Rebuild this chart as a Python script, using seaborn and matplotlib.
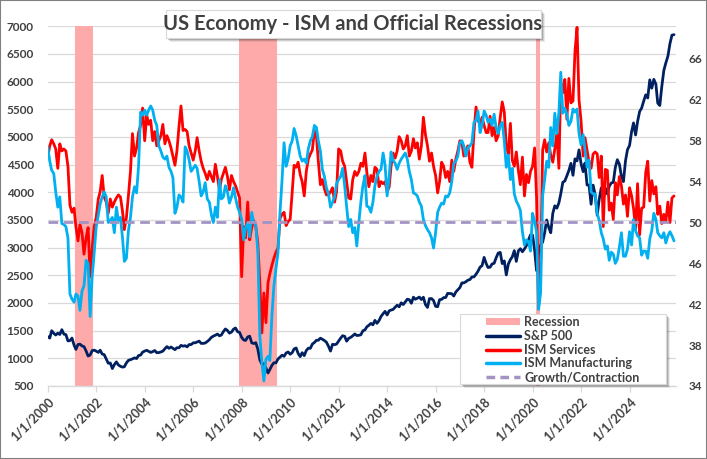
import matplotlib
matplotlib.use("Agg")
import matplotlib.pyplot as plt
import matplotlib.dates as mdates
import matplotlib.ticker as ticker
from matplotlib.patches import Rectangle, Patch
from matplotlib.lines import Line2D
import pandas as pd
import seaborn as sns

# ─── data (monthly, Jan 2000 .. Nov 2025) ─────────────────────────────────────
START_MONTH = "2000-01-01"

sp500 = [
    1394, 1366, 1499, 1452, 1421, 1455, 1431, 1518, 1437, 1429, 1315, 1320,  # 2000
    1366, 1240, 1160, 1249, 1256, 1224, 1211, 1134, 1041, 1060, 1139, 1148,  # 2001
    1130, 1107, 1147, 1077, 1067, 990, 912, 916, 815, 886, 936, 880,         # 2002
    856, 841, 848, 917, 964, 975, 990, 1008, 996, 1051, 1058, 1112,          # 2003
    1131, 1145, 1126, 1107, 1121, 1141, 1102, 1104, 1115, 1130, 1174, 1212,  # 2004
    1181, 1204, 1181, 1157, 1192, 1191, 1234, 1220, 1229, 1207, 1249, 1248,  # 2005
    1280, 1281, 1295, 1311, 1270, 1270, 1277, 1304, 1336, 1378, 1401, 1418,  # 2006
    1438, 1407, 1421, 1482, 1531, 1503, 1455, 1474, 1527, 1549, 1481, 1468,  # 2007
    1379, 1331, 1323, 1386, 1400, 1280, 1267, 1283, 1165, 969, 896, 903,     # 2008
    826, 735, 798, 873, 919, 919, 987, 1021, 1057, 1036, 1096, 1115,         # 2009
    1074, 1104, 1169, 1187, 1089, 1031, 1102, 1049, 1141, 1183, 1181, 1258,  # 2010
    1286, 1327, 1326, 1364, 1345, 1321, 1292, 1219, 1131, 1253, 1247, 1258,  # 2011
    1312, 1366, 1408, 1398, 1310, 1362, 1379, 1407, 1441, 1412, 1416, 1426,  # 2012
    1498, 1515, 1569, 1598, 1631, 1606, 1686, 1633, 1682, 1757, 1806, 1848,  # 2013
    1783, 1859, 1872, 1884, 1924, 1960, 1931, 2003, 1972, 2018, 2068, 2059,  # 2014
    1995, 2105, 2068, 2086, 2107, 2063, 2104, 1972, 1920, 2079, 2080, 2044,  # 2015
    1940, 1932, 2060, 2065, 2097, 2099, 2174, 2171, 2168, 2126, 2199, 2239,  # 2016
    2279, 2364, 2363, 2384, 2412, 2423, 2470, 2472, 2519, 2575, 2648, 2674,  # 2017
    2824, 2714, 2641, 2648, 2705, 2718, 2816, 2902, 2914, 2712, 2760, 2507,  # 2018
    2704, 2784, 2834, 2946, 2752, 2942, 2980, 2926, 2977, 3038, 3141, 3231,  # 2019
    3226, 2954, 2585, 2912, 3044, 3100, 3271, 3500, 3363, 3270, 3622, 3756,  # 2020
    3714, 3811, 3973, 4181, 4204, 4298, 4395, 4523, 4308, 4605, 4567, 4766,  # 2021
    4516, 4374, 4530, 4132, 4132, 3785, 4130, 3955, 3586, 3872, 4080, 3840,  # 2022
    4077, 3970, 4109, 4169, 4180, 4450, 4589, 4508, 4288, 4194, 4568, 4770,  # 2023
    4846, 5096, 5254, 5036, 5278, 5460, 5522, 5648, 5762, 5705, 6032, 5882,  # 2024
    6041, 5955, 5612, 5569, 5912, 6205, 6339, 6460, 6688, 6840, 6849,        # 2025
]

ism_services = [
    56.4, 57.5, 58.1, 57.7, 57.2, 55.3, 57.7, 57.0, 57.2, 57.0, 55.5, 51.7,  # 2000
    51.0, 51.4, 49.6, 48.2, 49.8, 49.0, 46.9, 48.5, 49.5, 44.7, 47.5, 49.6,  # 2001
    50.5, 52.3, 53.0, 54.6, 52.5, 52.0, 50.9, 52.3, 51.5, 52.0, 52.4, 52.7,  # 2002
    52.5, 51.1, 49.3, 50.5, 52.6, 55.0, 58.7, 56.5, 57.3, 58.8, 59.5, 61.2,  # 2003
    58.0, 60.5, 59.6, 60.0, 58.0, 58.9, 57.5, 58.0, 58.5, 59.6, 57.7, 58.5,  # 2004
    58.0, 57.3, 56.5, 55.6, 57.0, 59.4, 61.4, 59.0, 59.1, 58.9, 57.5, 56.8,  # 2005
    56.1, 57.0, 58.3, 57.0, 56.0, 55.3, 54.8, 54.2, 55.0, 54.5, 54.0, 55.7,  # 2006
    54.5, 53.2, 54.2, 54.8, 55.4, 54.5, 53.2, 54.6, 54.0, 53.6, 53.0, 52.4,  # 2007
    44.7, 49.6, 48.5, 52.0, 48.3, 49.5, 50.2, 49.6, 48.0, 44.1, 39.2, 43.1,  # 2008
    40.2, 44.1, 45.0, 45.8, 46.5, 47.1, 47.5, 50.4, 50.8, 51.0, 49.7, 50.1,  # 2009
    50.3, 53.0, 55.6, 55.4, 55.9, 54.7, 54.0, 52.6, 55.0, 56.2, 56.7, 57.1,  # 2010
    59.0, 58.4, 56.0, 53.7, 54.2, 53.3, 52.7, 52.7, 53.0, 53.4, 52.0, 53.0,  # 2011
    57.2, 57.0, 56.0, 55.5, 54.0, 52.4, 52.3, 54.2, 55.0, 54.6, 55.0, 55.8,  # 2012
    55.5, 56.8, 54.9, 53.5, 54.6, 54.0, 55.4, 55.2, 53.5, 54.0, 53.8, 54.0,  # 2013
    53.0, 53.5, 55.5, 56.8, 56.3, 57.0, 58.4, 58.0, 57.2, 57.5, 58.5, 56.5,  # 2014
    57.0, 58.2, 57.3, 57.8, 56.2, 57.5, 60.3, 58.6, 57.5, 56.0, 56.8, 55.5,  # 2015
    54.6, 52.9, 54.0, 55.9, 55.5, 54.4, 55.0, 54.0, 56.1, 55.0, 56.2, 57.0,  # 2016
    58.0, 57.8, 56.5, 57.0, 57.5, 55.9, 55.4, 58.8, 61.3, 60.0, 59.6, 60.3,  # 2017
    59.5, 58.8, 58.8, 60.4, 58.5, 59.3, 58.0, 58.5, 60.3, 61.8, 60.8, 57.5,  # 2018
    56.7, 59.7, 56.1, 55.5, 56.9, 55.1, 53.7, 56.4, 52.6, 54.7, 53.9, 55.0,  # 2019
    55.5, 57.3, 52.5, 41.8, 45.4, 57.1, 58.1, 56.9, 57.8, 56.6, 55.9, 57.2,  # 2020
    58.7, 55.3, 63.7, 62.7, 64.0, 60.1, 64.1, 61.7, 61.9, 66.7, 69.1, 62.0,  # 2021
    59.9, 56.5, 58.3, 57.1, 55.9, 55.3, 56.7, 56.9, 56.7, 54.4, 56.5, 49.6,  # 2022
    55.2, 55.1, 51.2, 51.9, 50.3, 53.9, 52.7, 54.5, 53.6, 51.8, 52.7, 50.6,  # 2023
    53.4, 52.6, 51.4, 49.4, 53.8, 48.8, 51.4, 51.5, 54.9, 56.0, 52.1, 54.1,  # 2024
    52.8, 53.5, 50.8, 51.6, 49.9, 50.8, 50.1, 52.0, 50.0, 52.4, 52.6,        # 2025
]

ism_manufacturing = [
    57.4, 56.0, 55.1, 54.8, 53.0, 51.5, 52.5, 49.9, 49.8, 49.6, 48.5, 43.0,  # 2000
    42.5, 42.2, 43.0, 42.8, 41.4, 43.3, 43.8, 46.3, 46.0, 40.8, 44.7, 47.0,  # 2001
    49.6, 50.7, 51.8, 52.5, 53.0, 52.5, 50.0, 50.2, 50.5, 49.0, 51.5, 50.2,  # 2002
    50.5, 48.5, 46.2, 46.5, 49.2, 50.5, 52.5, 53.5, 52.9, 55.5, 60.8, 60.5,  # 2003
    61.0, 60.5, 61.0, 61.4, 61.0, 60.0, 59.5, 57.5, 57.0, 56.4, 56.2, 56.5,  # 2004
    55.4, 55.0, 54.4, 50.9, 51.5, 52.7, 52.5, 52.0, 57.4, 57.0, 56.1, 55.0,  # 2005
    55.3, 55.6, 55.3, 54.0, 52.6, 53.0, 53.9, 52.3, 52.0, 50.8, 50.0, 51.5,  # 2006
    50.5, 54.2, 52.3, 52.5, 53.6, 53.0, 51.9, 52.5, 53.4, 52.4, 51.5, 51.0,  # 2007
    50.3, 48.3, 49.5, 50.0, 48.6, 51.0, 50.0, 49.7, 47.1, 38.9, 36.3, 34.5,  # 2008
    36.6, 36.9, 36.5, 40.9, 43.8, 45.5, 47.0, 51.0, 54.2, 57.8, 55.5, 56.2,  # 2009
    57.5, 58.0, 59.2, 58.5, 57.5, 56.5, 56.0, 56.2, 55.8, 57.2, 58.0, 58.4,  # 2010
    59.5, 59.3, 58.0, 57.0, 55.2, 54.5, 53.4, 52.8, 51.5, 52.0, 52.5, 53.8,  # 2011
    54.2, 54.5, 55.3, 53.6, 51.5, 49.6, 50.3, 49.0, 49.5, 47.7, 50.0, 52.0,  # 2012
    53.6, 54.6, 51.6, 51.5, 51.0, 52.0, 53.6, 54.5, 55.0, 55.2, 56.8, 55.6,  # 2013
    52.6, 54.5, 56.9, 56.1, 55.8, 55.2, 55.8, 56.2, 56.5, 56.8, 56.2, 55.0,  # 2014
    54.2, 52.9, 52.8, 52.6, 52.0, 51.6, 50.3, 49.7, 49.3, 49.0, 48.5, 47.5,  # 2015
    49.0, 51.0, 51.5, 51.9, 51.8, 52.6, 52.5, 52.9, 54.0, 55.8, 56.0, 56.5,  # 2016
    57.8, 58.0, 57.5, 56.5, 57.3, 57.5, 57.8, 59.8, 60.0, 60.9, 58.8, 59.5,  # 2017
    60.9, 60.5, 59.8, 60.1, 59.5, 60.6, 59.3, 58.7, 59.5, 59.8, 58.0, 55.4,  # 2018
    56.6, 54.2, 55.3, 52.8, 52.1, 51.7, 51.2, 49.1, 47.8, 48.3, 48.1, 47.2,  # 2019
    50.9, 50.1, 49.1, 41.5, 43.1, 52.6, 54.2, 56.0, 55.4, 59.3, 57.5, 60.7,  # 2020
    58.7, 60.8, 64.7, 60.7, 61.2, 60.6, 59.5, 59.9, 61.1, 60.8, 61.1, 58.7,  # 2021
    57.6, 58.6, 57.1, 55.4, 56.1, 53.0, 52.8, 52.8, 50.9, 50.2, 49.0, 48.4,  # 2022
    47.4, 47.7, 46.3, 47.1, 46.9, 46.0, 46.4, 47.6, 49.0, 46.7, 46.7, 47.4,  # 2023
    49.1, 47.8, 50.3, 49.2, 48.7, 48.5, 46.8, 47.2, 47.2, 46.5, 48.4, 49.2,  # 2024
    50.9, 50.3, 49.0, 48.7, 48.5, 49.0, 48.0, 48.7, 49.1, 48.7, 48.2,        # 2025
]

# NBER recession months (first, last)
recessions = [("2001-03-01", "2001-11-01"),
              ("2007-12-01", "2009-06-01"),
              ("2020-03-01", "2020-04-01")]

growth_line = 50

# ─── style ─────────────────────────────────────────────────────────────────────
NAVY, RED, CYAN = "#002060", "#FF0000", "#00B0F0"
PINK, PURPLE = "#FFAAAA", "#A393C4"
TXT = "#404040"

sns.set_theme(style="white")
plt.rcParams["font.family"] = ["Lato", "DejaVu Sans"]

W_PX, H_PX = 707, 459


def fig_box(x0, y0, x1, y1):
    """pixel box (top-left origin) -> figure fraction [x, y, w, h]"""
    return [x0 / W_PX, 1 - y1 / H_PX, (x1 - x0) / W_PX, (y1 - y0) / H_PX]


def shadowed_box(fig, x0, y0, x1, y1):
    """white box with a soft drop shadow, in pixel coords"""
    for off, alpha in ((4, 0.08), (3, 0.12), (2, 0.18)):
        sb = fig_box(x0 + off, y0 + off, x1 + off, y1 + off)
        fig.patches.append(Rectangle((sb[0], sb[1]), sb[2], sb[3], transform=fig.transFigure,
                                     facecolor="black", alpha=alpha, lw=0))
    b = fig_box(x0, y0, x1, y1)
    fig.patches.append(Rectangle((b[0], b[1]), b[2], b[3], transform=fig.transFigure,
                                 facecolor="white", edgecolor="#d9d9d9", lw=0.8))


df = pd.DataFrame({
    "month": pd.date_range(START_MONTH, periods=len(sp500), freq="MS"),
    "sp500": sp500,
    "services": ism_services,
    "manufacturing": ism_manufacturing,
})

fig = plt.figure(figsize=(W_PX / 100, H_PX / 100), dpi=100)
ax = fig.add_axes(fig_box(47.7, 26.3, 676, 386))
ax2 = ax.twinx()

# recession columns
half = pd.Timedelta(days=15)
for first, last in recessions:
    ax.axvspan(pd.Timestamp(first) - half, pd.Timestamp(last) + half,
               color=PINK, lw=0, zorder=1)

sns.lineplot(data=df, x="month", y="sp500", ax=ax, color=NAVY, lw=2.0, zorder=3)
sns.lineplot(data=df, x="month", y="services", ax=ax2, color=RED, lw=2.0, zorder=3)
sns.lineplot(data=df, x="month", y="manufacturing", ax=ax2, color=CYAN, lw=2.0, zorder=4)
ax2.axhline(growth_line, color=PURPLE, lw=2.0, ls=(0, (3.5, 2)), zorder=5)

# axes
ax.set_xlim(pd.Timestamp("2000-01-01"), pd.Timestamp("2025-12-01"))
ax.set_ylim(500, 7000)
ax.yaxis.set_major_locator(ticker.MultipleLocator(500))
ax2.set_ylim(34, 69.2)
ax2.yaxis.set_major_locator(ticker.FixedLocator(range(34, 67, 4)))

ax.xaxis.set_major_locator(mdates.YearLocator(2))
ax.xaxis.set_major_formatter(ticker.FuncFormatter(
    lambda v, _: f"1/1/{mdates.num2date(v).year}"))

for a in (ax, ax2):
    a.set_xlabel("")
    a.set_ylabel("")
    for s in a.spines.values():
        s.set_visible(False)
ax.spines["bottom"].set_visible(True)
ax.spines["bottom"].set_color("#d9d9d9")
ax.spines["bottom"].set_linewidth(1.0)

ax.set_axisbelow(True)
ax.yaxis.grid(True, color="#d9d9d9", lw=0.9)
ax.xaxis.grid(False)

ax.tick_params(axis="x", bottom=True, direction="out", length=4, width=0.9,
               color="#d9d9d9", pad=3, labelsize=9, labelcolor=TXT)
ax.tick_params(axis="y", left=False, length=0, pad=10, labelsize=8.5, labelcolor=TXT)
ax2.tick_params(axis="y", right=False, length=0, pad=9, labelsize=8.5, labelcolor=TXT)
for lab in ax.get_xticklabels():
    lab.set_rotation(45)
    lab.set_ha("right")
    lab.set_rotation_mode("anchor")
for lab in ax.get_xticklabels() + ax.get_yticklabels() + ax2.get_yticklabels():
    lab.set_fontweight("bold")

# title box
shadowed_box(fig, 165.7, 10, 540.7, 38.3)
fig.text(353 / W_PX, 1 - 24.5 / H_PX, "US Economy - ISM and Official Recessions",
         ha="center", va="center", fontsize=14.5, fontweight="bold", color=TXT)

# legend box
shadowed_box(fig, 460, 314.3, 666, 384.3)
handles = [
    Patch(facecolor=PINK, edgecolor="none", label="Recession"),
    Line2D([], [], color=NAVY, lw=2.5, label="S&P 500"),
    Line2D([], [], color=RED, lw=2.5, label="ISM Services"),
    Line2D([], [], color=CYAN, lw=2.5, label="ISM Manufacturing"),
    Line2D([], [], color=PURPLE, lw=2.5, ls=(0, (2.5, 1.5)), label="Growth/Contraction"),
]
leg = fig.legend(handles=handles, loc="center", bbox_to_anchor=(563 / W_PX, 1 - 349.5 / H_PX),
                 frameon=False, handlelength=2.7, handleheight=0.5,
                 handletextpad=0.35, labelspacing=0.14, borderpad=0, fontsize=9)
for t in leg.get_texts():
    t.set_color(TXT)
    t.set_fontweight("bold")

# outer border
fig.patches.append(Rectangle((0, 0), 1, 1, transform=fig.transFigure, fill=False,
                             edgecolor="#808080", lw=1.5))

fig.savefig("out.png", dpi=100)
